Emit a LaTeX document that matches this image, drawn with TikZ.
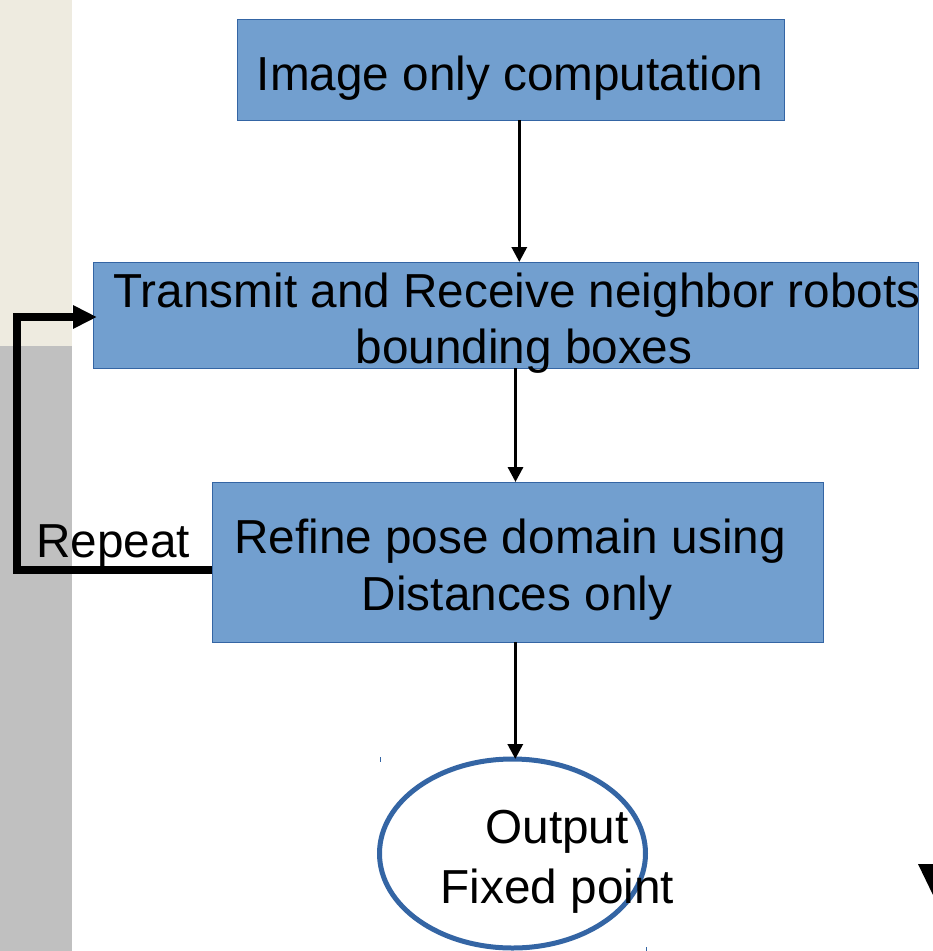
\documentclass[tikz,border=0pt]{standalone}
\usepackage{fontspec}
\setmainfont{Liberation Sans}
\usetikzlibrary{arrows.meta,shapes.geometric}
\definecolor{boxfill}{HTML}{729FCF}
\definecolor{boxline}{HTML}{3465A4}
\definecolor{beige}{HTML}{EEEBE0}
\definecolor{sidegray}{HTML}{C0C0C0}
\tikzset{
  stepbox/.style={draw=boxline, fill=boxfill, line width=1pt, inner sep=0pt, outer sep=0pt},
  txt/.style={anchor=base, inner sep=0pt, outer sep=0pt, font=\fontsize{47.7}{57}\selectfont},
  arr/.style={line width=3.2pt, -{Triangle[width=15pt,length=15pt]}},
  looparr/.style={line width=8pt, line join=miter, -{Triangle[width=22pt,length=24pt]}},
  outell/.style={ellipse, draw=boxline, line width=5pt, inner sep=0pt, outer sep=0pt},
  tickmark/.style={draw=boxline, line width=1pt}
}
\begin{document}
\begin{tikzpicture}[x=1pt,y=-1pt]
\useasboundingbox (0,0) rectangle (933,951);
\fill[beige] (0,0) rectangle (72,346);
\fill[sidegray] (0,346) rectangle (72,951);

\node[stepbox, minimum width=547pt, minimum height=101pt] (b1) at (510.5,69.5) {};
\node[stepbox, minimum width=825pt, minimum height=106pt] (b2) at (505.5,315) {};
\node[stepbox, minimum width=611pt, minimum height=160pt] (b3) at (517.5,562) {};
\node[outell, minimum width=266pt, minimum height=189pt] (ell) at (512.5,853.5) {};

\node[txt] (t1) at (510,90) {Image only computation};
\node[txt] (t2a) at (517,307) {Transmit and Receive neighbor robots};
\node[txt] (t2b) at (524,363) {bounding boxes};
\node[txt] (t3a) at (510,553) {Refine pose domain using};
\node[txt] (t3b) at (517,610) {Distances only};
\node[txt] (rep) at (113,557) {Repeat};
\node[txt] (t4a) at (557,843) {Output};
\node[txt] (t4b) at (557.5,903) {Fixed point};

\draw[arr] ([xshift=8.8pt]b1.south) -- ([xshift=8.8pt]b1.south |- b2.north);
\draw[arr] ([xshift=10pt]b2.south) -- ([xshift=10pt]b2.south |- b3.north);
\draw[arr] ([xshift=-2.2pt]b3.south) -- ([xshift=-2.2pt]b3.south |- ell.north);

\coordinate (loopx) at (17,0);
\draw[looparr] ([yshift=-8pt]b3.west) -- ([yshift=-8pt]b3.west -| loopx)
  -- ([yshift=-2pt]b2.west -| loopx) -- ([xshift=4pt,yshift=-2pt]b2.west);

\draw[tickmark] (380,757) -- (380,762);
\draw[tickmark] (646,947) -- (646,951);

\fill[black] (918,864) -- (933,864) -- (933,895) -- cycle;
\end{tikzpicture}
\end{document}
